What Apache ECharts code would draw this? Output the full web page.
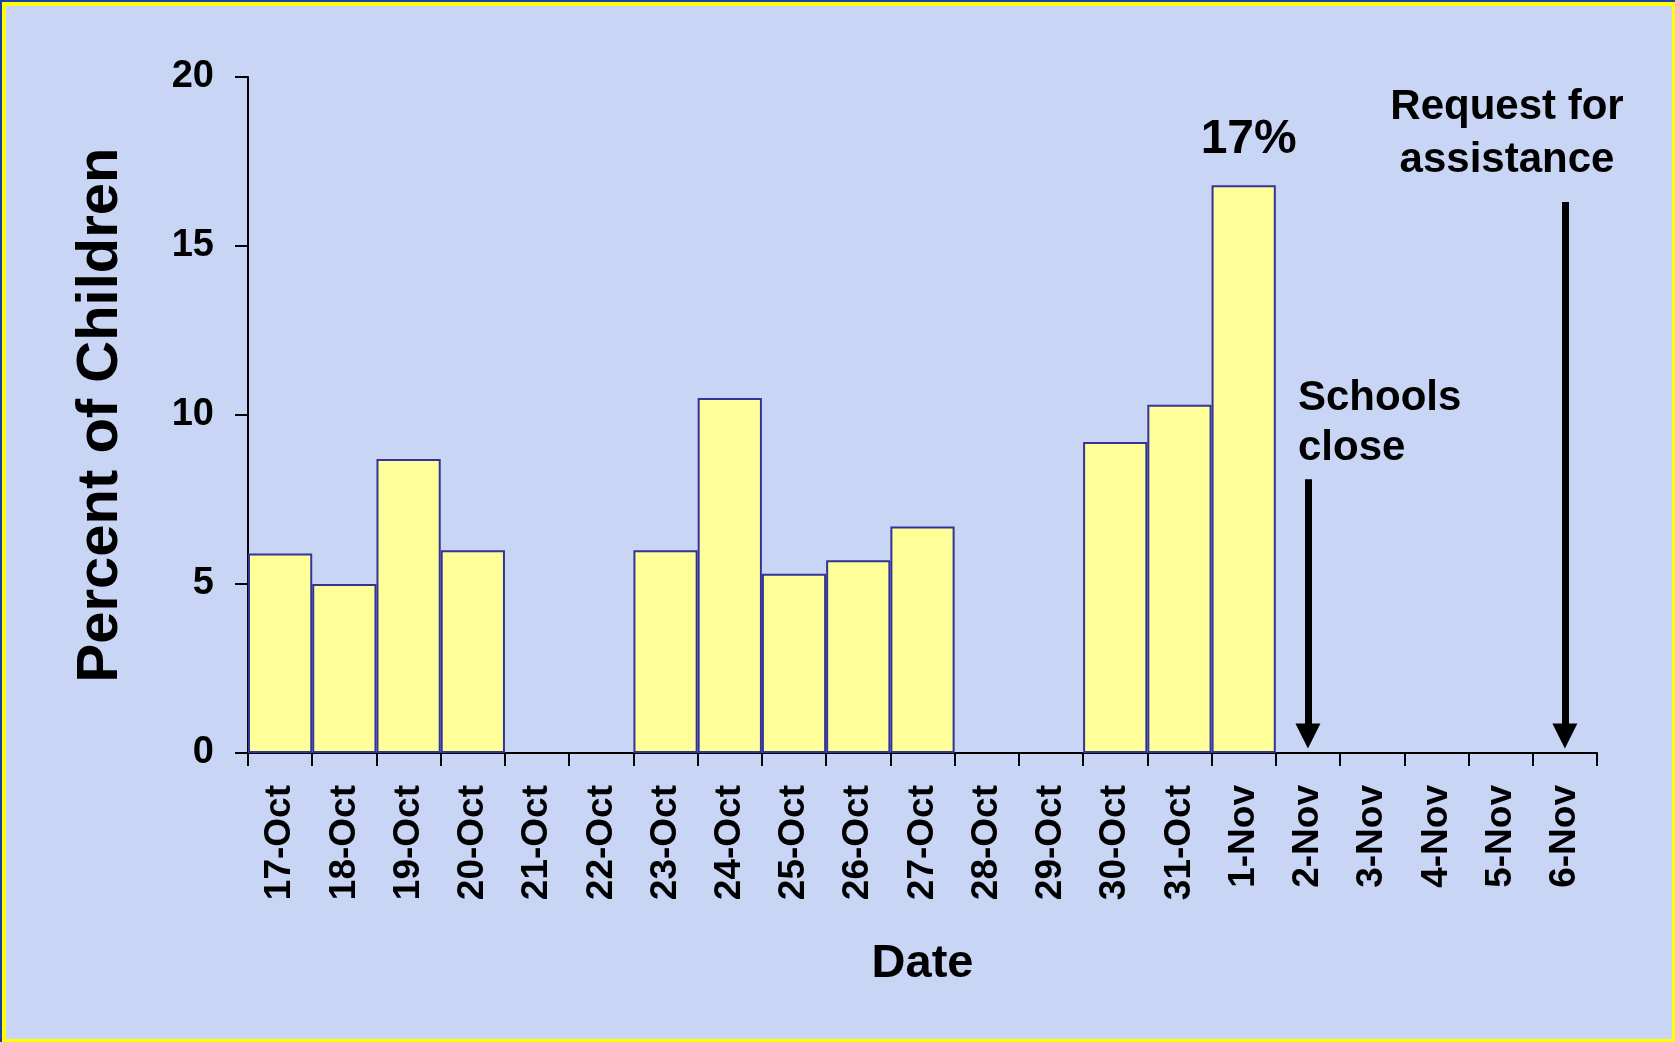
<!DOCTYPE html>
<html>
<head>
<meta charset="utf-8">
<script src="https://cdn.jsdelivr.net/npm/echarts@6/dist/echarts.min.js"></script>
<style>
  html, body { margin: 0; padding: 0; background: #C9D5F4; }
  #chart { position: absolute; left: 0; top: 0; width: 1675px; height: 1042px; }
  #frameOuter { position: absolute; left: 0; top: 0; width: 1675px; height: 1042px; box-sizing: border-box;
    border-top: 2px solid #1E3FA8; border-left: 2px solid #1E3FA8; pointer-events: none; }
  #frameInner { position: absolute; left: 2px; top: 2px; width: 1673px; height: 1040px; box-sizing: border-box;
    border-top: 4px solid #FFFF00; border-left: 4px solid #FFFF00; border-right: 3px solid #FFFF00; border-bottom: 3px solid #FFFF00; pointer-events: none; }
</style>
</head>
<body>
<div id="chart"></div>
<div id="frameOuter"></div>
<div id="frameInner"></div>
<script>
// ---- data ----
const dates = ['17-Oct','18-Oct','19-Oct','20-Oct','21-Oct','22-Oct','23-Oct','24-Oct','25-Oct','26-Oct','27-Oct','28-Oct','29-Oct','30-Oct','31-Oct','1-Nov','2-Nov','3-Nov','4-Nov','5-Nov','6-Nov'];
const percentChildren = [5.9, 5.0, 8.7, 6.0, null, null, 6.0, 10.5, 5.3, 5.7, 6.7, null, null, 9.2, 10.3, 16.8, null, null, null, null, null];
const yTicks = [0, 5, 10, 15, 20];
const peakLabel = '17%';
const peakDate = '1-Nov';
const schoolsCloseDate = '2-Nov';
const requestDate = '6-Nov';
const schoolsArrowTop = 8.1;
const requestArrowTop = 16.3;
const arrowEnd = 0.5;

const FONT = '"Liberation Sans", Arial, sans-serif';

const seriesData = percentChildren.map((v, i) => {
  if (dates[i] === peakDate) {
    return {
      value: v,
      label: {
        show: true, position: 'top', distance: 21, offset: [5, 0],
        formatter: peakLabel, color: '#000', fontWeight: 'bold', fontSize: 48, fontFamily: FONT
      }
    };
  }
  return v;
});

const chart = echarts.init(document.getElementById('chart'), null, { renderer: 'canvas' });

const option = {
  backgroundColor: '#C9D5F4',
  animation: false,
  grid: { left: 248, right: 78, top: 77, bottom: 289, containLabel: false },
  xAxis: {
    type: 'category',
    data: dates,
    name: 'Date',
    nameLocation: 'middle',
    nameGap: 188,
    nameTextStyle: { color: '#000', fontWeight: 'bold', fontSize: 47, fontFamily: FONT },
    axisLine: { show: true, lineStyle: { color: '#000', width: 2 } },
    axisTick: { show: true, inside: false, length: 13, alignWithLabel: false, lineStyle: { color: '#000', width: 2 } },
    axisLabel: { rotate: 90, margin: 32, color: '#000', fontWeight: 'bold', fontSize: 37, fontFamily: FONT, interval: 0 },
    splitLine: { show: false }
  },
  yAxis: {
    type: 'value',
    min: yTicks[0],
    max: yTicks[yTicks.length - 1],
    interval: yTicks[1] - yTicks[0],
    name: 'Percent of Children',
    nameLocation: 'middle',
    nameGap: 118,
    nameTextStyle: { color: '#000', fontWeight: 'bold', fontSize: 58, fontFamily: FONT },
    axisLine: { show: true, lineStyle: { color: '#000', width: 2 } },
    axisTick: { show: true, length: 13, lineStyle: { color: '#000', width: 2 } },
    axisLabel: { margin: 34, color: '#000', fontWeight: 'bold', fontSize: 38, fontFamily: FONT },
    splitLine: { show: false }
  },
  series: [{
    type: 'bar',
    data: seriesData,
    barWidth: '100%',
    barCategoryGap: '0%',
    itemStyle: { color: '#FFFF99', borderColor: '#333399', borderWidth: 2 },
    markLine: {
      silent: true,
      symbol: ['none', 'triangle'],
      symbolSize: [25, 25],
      label: { show: false },
      lineStyle: { color: '#000', width: 7, type: 'solid' },
      itemStyle: { color: '#000' },
      data: [
        [ { coord: [dates.indexOf(schoolsCloseDate), schoolsArrowTop] }, { coord: [dates.indexOf(schoolsCloseDate), arrowEnd] } ],
        [ { coord: [dates.indexOf(requestDate), requestArrowTop] }, { coord: [dates.indexOf(requestDate), arrowEnd] } ]
      ]
    }
  }],
  graphic: [
    { type: 'text', x: 1298, y: 398, style: { text: 'Schools', font: 'bold 42px ' + FONT, fill: '#000', align: 'left', verticalAlign: 'middle' } },
    { type: 'text', x: 1298, y: 448, style: { text: 'close', font: 'bold 42px ' + FONT, fill: '#000', align: 'left', verticalAlign: 'middle' } },
    { type: 'text', x: 1507, y: 107, style: { text: 'Request for', font: 'bold 42px ' + FONT, fill: '#000', align: 'center', verticalAlign: 'middle' } },
    { type: 'text', x: 1507, y: 160, style: { text: 'assistance', font: 'bold 42px ' + FONT, fill: '#000', align: 'center', verticalAlign: 'middle' } }
  ]
};

chart.setOption(option);
</script>
</body>
</html>
